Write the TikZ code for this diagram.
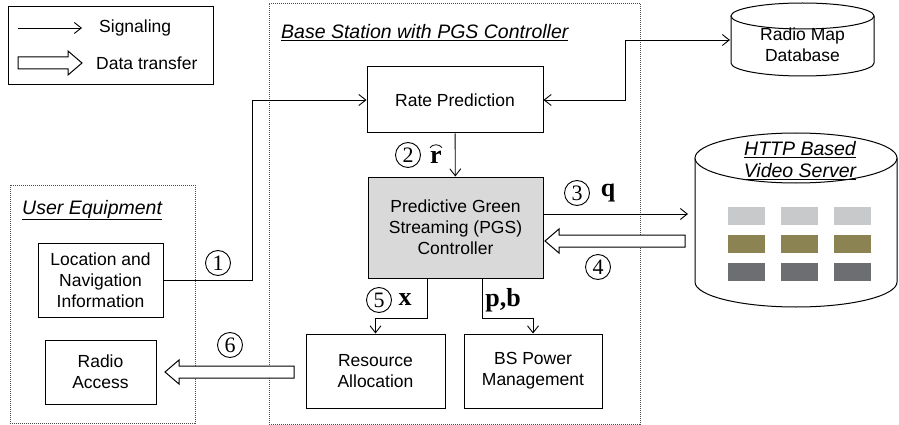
\documentclass[tikz,border=0pt]{standalone}
\usepackage[no-math]{fontspec}
\setmainfont{Liberation Sans}
\newfontfamily\serifnum{Liberation Serif}
\usetikzlibrary{arrows.meta,calc}
\definecolor{pgsgray}{RGB}{217,217,218}
\definecolor{sqlight}{RGB}{200,201,203}
\definecolor{sqolive}{RGB}{139,131,82}
\definecolor{sqdark}{RGB}{109,110,113}
\tikzset{
  >={Straight Barb[length=7pt,width=11pt]},
  txt/.style={font=\fontsize{17.5}{21}\selectfont},
  boxn/.style={draw, line width=1pt, align=center, inner sep=0pt, txt},
  dotbox/.style={draw=black!70, line width=0.6pt, dash pattern=on 1pt off 1pt, inner sep=0pt},
  titl/.style={font=\fontsize{19.5}{23}\selectfont\itshape, inner sep=0pt, anchor=west},
  sig/.style={line width=0.9pt, ->},
  numc/.style={circle, draw, line width=0.9pt, inner sep=0pt, minimum size=25pt, font=\serifnum\fontsize{22}{22}\selectfont},
  boldlab/.style={inner sep=0pt, font=\serifnum\bfseries\fontsize{26}{26}\selectfont},
  dataarrow/.style={draw, line width=1pt, fill=white,
    to path={let \p1=(\tikztostart), \p2=(\tikztotarget), \n1={sign(\x2-\x1)} in
      ({\x1},{\y1-6pt}) -- ({\x2-\n1*14pt},{\y1-6pt}) -- ({\x2-\n1*14pt},{\y1-12pt}) -- ({\x2},{\y1})
      -- ({\x2-\n1*14pt},{\y1+12pt}) -- ({\x2-\n1*14pt},{\y1+6pt}) -- ({\x1},{\y1+6pt}) -- cycle}},
  cyl/.style={draw, line width=1pt, fill=white},
}
\begin{document}
\begin{tikzpicture}[x=1pt,y=-1pt]
\useasboundingbox (0,0) rectangle (899,425);

% legend
\node[draw, line width=1pt, minimum width=205pt, minimum height=78pt, inner sep=0pt] (legend) at (110.5,46) {};
\coordinate (lg1a) at (18,28); \coordinate (lg1b) at (82,28);
\coordinate (lg2a) at (18,63); \coordinate (lg2b) at (82,63);
\draw[sig] (lg1a) -- (lg1b);
\draw[dataarrow] (lg2a) to (lg2b);
\node[txt, anchor=west, inner sep=0pt] (lgt1) at (99,28) {Signaling};
\node[txt, anchor=west, inner sep=0pt] (lgt2) at (96,63) {Data transfer};

% dotted group boxes
\node[dotbox, minimum width=185pt, minimum height=238pt] (ue) at (102.5,304) {};
\node[dotbox, minimum width=371pt, minimum height=421pt] (bs) at (454.5,213.5) {};
\node[titl] (bstitle) at (281,33) {\underline{Base Station with PGS Controller}};
\node[titl] (uetitle) at (22,210) {\underline{User Equipment}};

% boxes
\node[boxn, minimum width=176pt, minimum height=66pt] (rate) at (455,100) {Rate Prediction};
\node[boxn, fill=pgsgray, minimum width=175pt, minimum height=101pt] (pgc) at (455.5,227.5) {Predictive Green\\Streaming (PGS)\\Controller};
\node[boxn, minimum width=139pt, minimum height=74pt] (ra) at (375.5,371) {Resource\\Allocation};
\node[boxn, minimum width=138pt, minimum height=74pt] (bsp) at (533,371) {BS Power\\Management};
\node[boxn, minimum width=125pt, minimum height=74pt] (loc) at (100.5,280) {Location and\\Navigation\\Information};
\node[boxn, minimum width=111pt, minimum height=64pt] (acc) at (100.5,372) {Radio\\Access};

% radio map database cylinder
\draw[cyl] (731,16) -- (731,63) arc[start angle=180, end angle=360, x radius=71.5pt, y radius=13pt] -- (874,16);
\draw[cyl] (802.5,16) ellipse [x radius=71.5pt, y radius=13pt];
\node[txt, align=center, inner sep=0pt] (db) at (802.5,45) {Radio Map\\Database};

% video server cylinder
\draw[cyl] (695,158) -- (695,282) arc[start angle=180, end angle=360, x radius=101pt, y radius=25pt] -- (897,158);
\draw[cyl] (796,158) ellipse [x radius=101pt, y radius=25pt];
\node[align=center, inner sep=0pt, font=\fontsize{19.5}{22}\selectfont\itshape] (srv) at (800,161) {\underline{HTTP Based}\\\underline{Video Server}};
\foreach \cx in {728,781,834}{
  \fill[sqlight] (\cx,207) rectangle ++(36.5,18);
  \fill[sqolive] (\cx,234.5) rectangle ++(36.5,18.5);
  \fill[sqdark] (\cx,262.5) rectangle ++(36.5,18.5);
}

% signaling connectors
\coordinate (j1) at (252,280);
\coordinate (j2) at (625,100);
\coordinate (dbin) at (730,40);
\draw[sig] (loc.east) -- (loc.east -| j1) |- (rate.west);
\draw[line width=0.9pt, <->] (rate.east) -- (rate.east -| j2) |- (dbin);
\draw[sig] (rate) -- (pgc);
\coordinate (srvq) at (688,214);
\draw[sig] (pgc.east |- srvq) -- (srvq);
\coordinate (xa) at (427,318);
\coordinate (xb) at (482,318);
\draw[sig] (pgc.south -| xa) -- (xa) -| (ra.north);
\draw[sig] (pgc.south -| xb) -- (xb) -| (bsp.north);

% data transfers
\coordinate (srvd) at (685,241);
\coordinate (d4tip) at (545,241);
\draw[dataarrow] (srvd) to (d4tip);
\coordinate (d6a) at (294,372);
\coordinate (d6b) at (165,372);
\draw[dataarrow] (d6a) to (d6b);

% labels
\node[numc] (n1) at (218,263) {1};
\node[numc] (n2) at (408,155) {2};
\node[boldlab] (lr) at (436,157) {r};
\draw[line width=0.8pt] ([xshift=-6pt,yshift=3pt]lr.north) to[bend left=55] ([xshift=6pt,yshift=3pt]lr.north);
\node[numc] (n3) at (577,193) {3};
\node[boldlab] (lq) at (608,193) {q};
\node[numc] (n4) at (598,267) {4};
\node[numc] (n5) at (379,300) {5};
\node[boldlab] (lx) at (405,300) {x};
\node[boldlab] (lpb) at (503,300) {p,b};
\node[numc] (n6) at (230,345) {6};
\end{tikzpicture}
\end{document}
